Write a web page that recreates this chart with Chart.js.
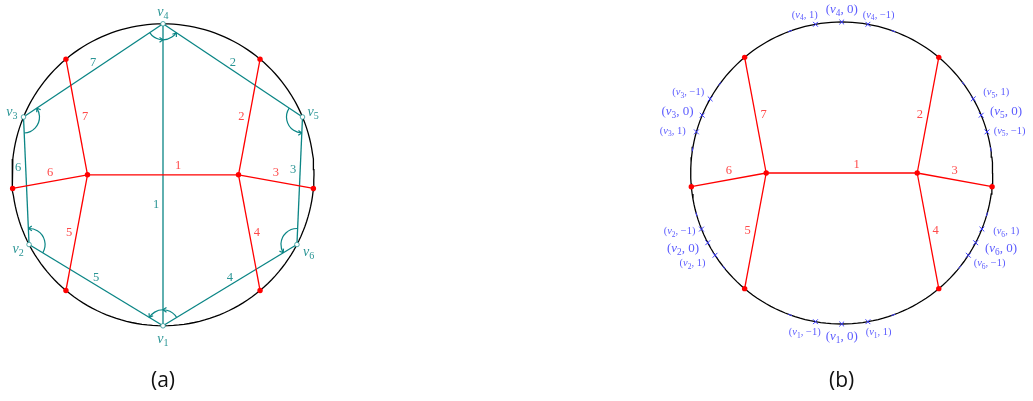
<!DOCTYPE html>
<html>
<head>
<meta charset="utf-8">
<script src="https://cdn.jsdelivr.net/npm/chart.js@4.4.1/dist/chart.umd.min.js"></script>
<style>
html, body { margin: 0; padding: 0; background: #fff; }
#wrap { width: 1033px; height: 401px; position: relative; }
</style>
</head>
<body>
<div id="wrap"><canvas id="ribbonChart"></canvas></div>
<script>
// ---- data ----
// ribbon graph vertices v1..v6, angle on the circle in degrees
const vertexNames = ['v_1', 'v_2', 'v_3', 'v_4', 'v_5', 'v_6'];
const vertexAngles = [270, 207.5, 157.5, 90, 22.5, 332.5];
// teal edges (vertex numbers) and their labels
const ribbonEdges = [[4, 3], [4, 5], [3, 2], [5, 6], [2, 1], [6, 1], [4, 1]];
const ribbonEdgeLabels = ['7', '2', '6', '3', '5', '4', '1'];
// red graph: two inner nodes (x in circle radii), edges to dots on the circle
const innerNodeX = { L: -0.5, R: 0.5 };
const fatEdgeLabels = ['1', '2', '3', '4', '5', '6', '7'];
const fatEdgeFrom = ['L', 'R', 'R', 'R', 'L', 'L', 'L'];
const fatEdgeTo = ['R', 50, -5.2, 310, 230, 185.2, 130]; // inner node or angle of outer dot
// panel (b): blue ports on the circle
const portLabels = [
  '(v_4, 1)', '(v_4, 0)', '(v_4, −1)',
  '(v_3, −1)', '(v_3, 0)', '(v_3, 1)',
  '(v_5, 1)', '(v_5, 0)', '(v_5, −1)',
  '(v_2, −1)', '(v_2, 0)', '(v_2, 1)',
  '(v_6, 1)', '(v_6, 0)', '(v_6, −1)',
  '(v_1, −1)', '(v_1, 0)', '(v_1, 1)'
];
const portAngles = [100, 90, 80, 150.6, 157.5, 164.2, 29.4, 22.5, 15.8, 201.8, 207.5, 213, 338.2, 332.5, 327, 260, 270, 280];
const tickAngles = [110, 70, 143.8, 171, 36.4, 9, 195.9, 218.7, 344.1, 321.4, 250, 290];
const panelNames = ['(a)', '(b)'];

// ---- layout ----
const R = 151;
const panels = [{ cx: 163, cy: 174.8 }, { cx: 841.7, cy: 173 }];
const RED = '#ff0000', RED_TXT = '#ff4a4a', TEAL = '#0a8585', TEAL_TXT = '#2a9595', BLUE = '#3a3aff', BLUE_TXT = '#5c5cff';
// label placement: [fraction along edge, dx, dy]
const ribbonLabelPos = [[0.5, 0, -8], [0.5, 0, -8], [0.4, -7.5, 0], [0.41, -7.2, 0], [0.5, 0, -7.5], [0.5, 0, -7.5], [0.6, -7, 0]];
const fatLabelPos = [[0.5, 15, -8.6], [0.5, -8, 0], [0.5, 0, -9], [0.5, 7.7, 0], [0.5, -7.7, 0], [0.5, 0, -9], [0.5, 8.3, 0]];
const vertexLabelPos = [[0, 13.5], [-11, 5], [-11.6, -5], [0, -11.5], [10.6, -4.6], [11.6, 7.7]];
// [dx, dy, align] for each blue port label
const portLabelPos = [
  [-10.7, -9.5, 'center'], [0, -12, 'center'], [10.7, -9.5, 'center'],
  [-6, -6.4, 'right'], [-8.7, -3.3, 'right'], [-10.7, -0.7, 'right'],
  [10, -6.4, 'left'], [8.7, -3.3, 'left'], [6.7, -0.7, 'left'],
  [-6, 2.4, 'right'], [-8.7, 5.6, 'right'], [-9.6, 8.3, 'right'],
  [11.3, 2.4, 'left'], [9.3, 5.6, 'left'], [5.3, 8.3, 'left'],
  [-10.7, 11, 'center'], [0, 12.7, 'center'], [10.7, 11, 'center']
];

function onCircle(p, deg) {
  const a = deg * Math.PI / 180;
  return { x: p.cx + R * Math.cos(a), y: p.cy - R * Math.sin(a) };
}
function node(p, key) {
  return typeof key === 'string' ? { x: p.cx + R * innerNodeX[key], y: p.cy } : onCircle(p, key);
}
function vertex(p, n) { return onCircle(p, vertexAngles[n - 1]); }

const datasets = [];
const seg = (a, b, color, order) => ({ data: [a, b], showLine: true, borderColor: color, borderWidth: 1.3, pointRadius: 0, order: order });

panels.forEach((p, pi) => {
  const ring = [];
  for (let d = 0; d <= 360; d += 2) ring.push(onCircle(p, d));
  datasets.push({ data: ring, showLine: true, borderColor: '#000', borderWidth: 1.3, pointRadius: 0, order: 4 });
  fatEdgeFrom.forEach((f, i) => datasets.push(seg(node(p, f), node(p, fatEdgeTo[i]), RED, 2)));
  const dots = [node(p, 'L'), node(p, 'R')];
  fatEdgeTo.forEach(t => { if (typeof t !== 'string') dots.push(node(p, t)); });
  datasets.push({ data: dots, pointRadius: 2.7, pointBackgroundColor: RED, pointBorderWidth: 0, order: 0 });
  if (pi === 0) {
    ribbonEdges.forEach(e => datasets.push(seg(vertex(p, e[0]), vertex(p, e[1]), TEAL, 3)));
    datasets.push({ data: vertexAngles.map(a => onCircle(p, a)), pointRadius: 2.3, pointBackgroundColor: '#fff',
      pointBorderColor: TEAL_TXT, pointBorderWidth: 0.8, order: 0 });
  } else {
    datasets.push({ data: portAngles.map(a => onCircle(p, a)), pointStyle: 'crossRot', pointRadius: 3.4,
      pointBorderColor: BLUE, pointBorderWidth: 1, order: 0 });
    datasets.push({ data: tickAngles.map(a => onCircle(p, a)), pointStyle: 'line', pointRadius: 2,
      pointRotation: tickAngles.map(a => 90 - a), pointBorderColor: BLUE, pointBorderWidth: 1, order: 0 });
  }
});

function drawMath(ctx, s, x, y, size, color, align) {
  const runs = [];
  for (let i = 0; i < s.length; i++) {
    const c = s[i];
    if (c === '_') runs.push({ t: s[++i], sub: true });
    else if (c === 'v') runs.push({ t: 'v', it: true });
    else runs.push({ t: c });
  }
  const fontOf = r => (r.it ? 'italic ' : '') + (r.sub ? size * 0.72 : size) + 'px "Liberation Serif", serif';
  let w = 0;
  runs.forEach(r => { ctx.font = fontOf(r); r.w = ctx.measureText(r.t).width; w += r.w; });
  let sx = align === 'right' ? x - w : align === 'left' ? x : x - w / 2;
  ctx.fillStyle = color;
  ctx.textBaseline = 'middle';
  ctx.textAlign = 'left';
  runs.forEach(r => { ctx.font = fontOf(r); ctx.fillText(r.t, sx, r.sub ? y + size * 0.3 : y); sx += r.w; });
}

function arrowTip(ctx, x, y, dx, dy) {
  const L = 4.2, s = 0.6;
  [s, -s].forEach(k => {
    const bx = -dx * Math.cos(k) + dy * Math.sin(k), by = -dx * Math.sin(k) - dy * Math.cos(k);
    ctx.beginPath(); ctx.moveTo(x, y); ctx.lineTo(x + bx * L, y + by * L); ctx.stroke();
  });
}

const labelsPlugin = {
  id: 'labels',
  afterDatasetsDraw(chart) {
    const ctx = chart.ctx, xs = chart.scales.x, ys = chart.scales.y;
    const px = q => ({ x: xs.getPixelForValue(q.x), y: ys.getPixelForValue(q.y) });
    ctx.save();
    panels.forEach((p, pi) => {
      // red edge labels
      fatEdgeLabels.forEach((lab, i) => {
        const a = px(node(p, fatEdgeFrom[i])), b = px(node(p, fatEdgeTo[i]));
        const [t, dx, dy] = fatLabelPos[i];
        drawMath(ctx, lab, a.x + (b.x - a.x) * t + dx, a.y + (b.y - a.y) * t + dy, 12.5, RED_TXT, 'center');
      });
      const c = px({ x: p.cx, y: 381 });
      ctx.fillStyle = '#111';
      ctx.font = '21px "Open Sans", "Liberation Sans", sans-serif';
      ctx.textAlign = 'center'; ctx.textBaseline = 'middle';
      ctx.fillText(panelNames[pi], c.x, c.y);
    });
    // panel (a): teal labels and angle arcs
    const pa = panels[0];
    ribbonEdges.forEach((e, i) => {
      const a = px(vertex(pa, e[0])), b = px(vertex(pa, e[1]));
      const [t, dx, dy] = ribbonLabelPos[i];
      drawMath(ctx, ribbonEdgeLabels[i], a.x + (b.x - a.x) * t + dx, a.y + (b.y - a.y) * t + dy, 12.5, TEAL_TXT, 'center');
    });
    vertexNames.forEach((n, i) => {
      const v = px(vertex(pa, i + 1));
      drawMath(ctx, n, v.x + vertexLabelPos[i][0], v.y + vertexLabelPos[i][1], 14, TEAL_TXT, 'center');
    });
    // rotation arcs: [vertex, from, to, middle]
    const arcs = [[4, 3, 5, 1], [1, 6, 2, 4], [3, 2, 4, 0], [5, 4, 6, 0], [2, 1, 3, 0], [6, 5, 1, 0]];
    ctx.strokeStyle = TEAL; ctx.lineWidth = 1.2;
    arcs.forEach(([v, f, t, m]) => {
      const V = px(vertex(pa, v));
      const ang = n => { const q = px(vertex(pa, n)); return Math.atan2(q.y - V.y, q.x - V.x); };
      const a1 = ang(f), a2 = ang(t);
      let d = a2 - a1;
      while (d > Math.PI) d -= 2 * Math.PI;
      while (d <= -Math.PI) d += 2 * Math.PI;
      const r = 16, sg = d < 0 ? -1 : 1;
      ctx.beginPath(); ctx.arc(V.x, V.y, r, a1, a1 + d, d < 0); ctx.stroke();
      const tips = [a2];
      if (m) tips.push(ang(m));
      tips.forEach(a => arrowTip(ctx, V.x + r * Math.cos(a), V.y + r * Math.sin(a), -sg * Math.sin(a), sg * Math.cos(a)));
    });
    // panel (b): port labels
    const pb = panels[1];
    portLabels.forEach((lab, i) => {
      const q = px(onCircle(pb, portAngles[i]));
      const [dx, dy, al] = portLabelPos[i];
      drawMath(ctx, lab, q.x + dx, q.y + dy, lab.indexOf(' 0') > 0 ? 13 : 10.5, BLUE_TXT, al);
    });
    ctx.restore();
  }
};

new Chart(document.getElementById('ribbonChart'), {
  type: 'scatter',
  data: { datasets: datasets },
  options: {
    responsive: true,
    maintainAspectRatio: false,
    animation: false,
    layout: { padding: 0, autoPadding: false },
    plugins: { legend: { display: false }, tooltip: { enabled: false } },
    scales: {
      x: { type: 'linear', min: 0, max: 1033, display: false },
      y: { type: 'linear', min: 0, max: 401, reverse: true, display: false }
    }
  },
  plugins: [labelsPlugin]
});
</script>
</body>
</html>
